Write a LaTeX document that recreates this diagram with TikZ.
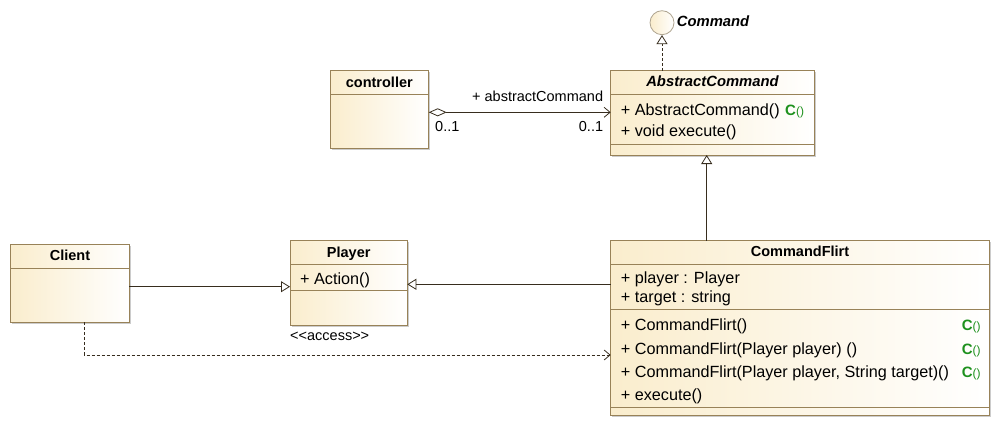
\documentclass[tikz,border=0pt]{standalone}
\usepackage{fontspec}
\setmainfont{Liberation Sans}
\usetikzlibrary{arrows.meta,shadows}
\definecolor{ucream}{RGB}{250,237,205}
\definecolor{ubord}{RGB}{152,130,88}
\definecolor{uline}{RGB}{55,45,30}
\definecolor{cgreen}{RGB}{30,145,30}
\definecolor{ccirc}{RGB}{175,165,145}
\begin{document}
\begin{tikzpicture}[x=1pt,y=-1pt,
  cls/.style={draw=ubord, line width=0.9pt, left color=ucream, right color=white, inner sep=0pt, outer sep=0pt, anchor=north west, drop shadow={shadow xshift=1.5pt, shadow yshift=-1.5pt, opacity=0.2, fill=black}},
  sepl/.style={draw=ubord, line width=0.9pt},
  hdr/.style={anchor=base, font=\fontsize{14.5}{17}\selectfont\bfseries, inner sep=0pt},
  mem/.style={anchor=base west, font=\fontsize{16.2}{19}\selectfont, inner sep=0pt},
  lbl/.style={font=\fontsize{14.5}{17}\selectfont, inner sep=0pt},
  ctor/.style={anchor=base west, inner sep=0pt, text=cgreen, font=\fontsize{15}{17}\selectfont\bfseries},
  conn/.style={draw=uline, line width=0.8pt},
  gen/.style={conn, -{Triangle[length=9pt, width=11pt, fill=white]}},
  realz/.style={conn, dash pattern=on 3pt off 2pt, -{Triangle[length=9pt, width=11pt, fill=white]}},
  dep/.style={conn, dash pattern=on 3pt off 2pt, -{Straight Barb[length=6pt, width=10pt]}},
  assoc/.style={conn, {Diamond[length=18pt, width=8pt, fill=white]}-{Straight Barb[length=6pt, width=10pt]}}
]
\useasboundingbox (0,0) rectangle (1001,428);

% Interface circle
\node[circle, draw=ccirc, line width=0.8pt, left color=ucream, right color=white, minimum size=24pt, inner sep=0pt] (cmd) at (662,22.7) {};
\node[anchor=base west, inner sep=0pt, font=\fontsize{14.8}{17}\selectfont\bfseries\itshape] (cmdt) at (676.7,26.7) {Command};

% AbstractCommand
\node[cls, minimum width=203.6pt, minimum height=84.3pt] (ac) at (610.7,70.7) {};
\draw[sepl] (ac.west |- 0,94) -- (ac.east |- 0,94);
\draw[sepl] (ac.west |- 0,144) -- (ac.east |- 0,144);
\node[hdr, font=\fontsize{14.8}{17}\selectfont\bfseries\itshape] (act) at (712.5,86) {AbstractCommand};
\node[mem] (acm1) at (620.7,115) {+ AbstractCommand()};
\node[ctor] (acc1) at (785,115) {C{\mdseries\fontsize{12}{14}\selectfont()}};
\node[mem] (acm2) at (620.7,136.5) {+ void execute()};

% controller
\node[cls, minimum width=98.7pt, minimum height=77.6pt] (ctrl) at (330,70.7) {};
\draw[sepl] (ctrl.west |- 0,94) -- (ctrl.east |- 0,94);
\node[hdr] (ctrlt) at (379.3,87) {controller};

% Client
\node[cls, minimum width=118.6pt, minimum height=78.3pt] (client) at (10.7,244) {};
\draw[sepl] (client.west |- 0,268) -- (client.east |- 0,268);
\node[hdr] (clientt) at (70,260.7) {Client};

% Player
\node[cls, minimum width=117.3pt, minimum height=85pt] (player) at (290,240.7) {};
\draw[sepl] (player.west |- 0,264) -- (player.east |- 0,264);
\draw[sepl] (player.west |- 0,290.7) -- (player.east |- 0,290.7);
\node[hdr] (playert) at (348.7,257) {Player};
\node[mem] (playerm) at (300,284) {+ Action()};
\node[lbl, anchor=base west] (access) at (290,340) {<{}<access>{}>};

% CommandFlirt
\node[cls, minimum width=378.6pt, minimum height=175pt] (cf) at (610.7,240.7) {};
\draw[sepl] (cf.west |- 0,264.3) -- (cf.east |- 0,264.3);
\draw[sepl] (cf.west |- 0,309.3) -- (cf.east |- 0,309.3);
\draw[sepl] (cf.west |- 0,407.3) -- (cf.east |- 0,407.3);
\node[hdr] (cft) at (800,256.7) {CommandFlirt};
\node[mem] (cfa1) at (620.7,283.3) {+ player : Player};
\node[mem] (cfa2) at (620.7,302.3) {+ target : string};
\node[mem] (cfm1) at (620.7,330.7) {+ CommandFlirt()};
\node[mem] (cfm2) at (620.7,354) {+ CommandFlirt(Player player) ()};
\node[mem] (cfm3) at (620.7,377.7) {+ CommandFlirt(Player player, String target)()};
\node[mem] (cfm4) at (620.7,400) {+ execute()};
\node[ctor] (cfc1) at (961.7,330.7) {C{\mdseries\fontsize{12}{14}\selectfont()}};
\node[ctor] (cfc2) at (961.7,354) {C{\mdseries\fontsize{12}{14}\selectfont()}};
\node[ctor] (cfc3) at (961.7,377.7) {C{\mdseries\fontsize{12}{14}\selectfont()}};

% Connectors
\draw[realz] (ac.north -| cmd.south) -- (cmd.south);
\draw[assoc] (ctrl.east |- 0,112.3) -- (ac.west |- 0,112.3);
\node[lbl, anchor=base east] (asl) at (603.3,101.7) {+ abstractCommand};
\node[lbl, anchor=base west] (m1) at (435,131) {0..1};
\node[lbl, anchor=base east] (m2) at (603.3,131) {0..1};
\draw[gen] (cf.north -| 706.7,0) -- (ac.south -| 706.7,0);
\draw[gen] (client.east |- 0,286.7) -- (player.west |- 0,286.7);
\draw[gen] (cf.west |- 0,284.3) -- (player.east |- 0,284.3);
\draw[dep] (client.south -| 84.3,0) |- (cf.west |- 0,355);
\end{tikzpicture}
\end{document}
